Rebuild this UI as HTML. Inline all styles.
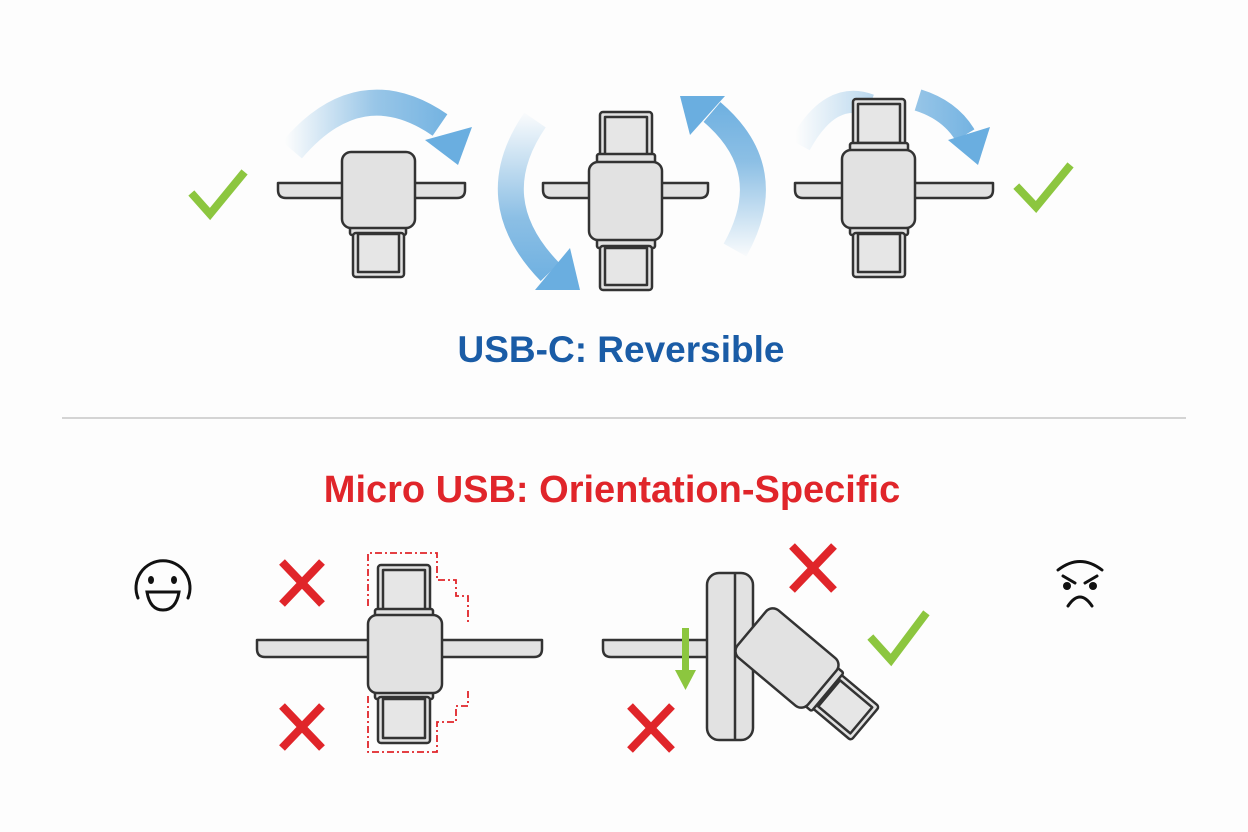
<!DOCTYPE html>
<html><head><meta charset="utf-8"><style>
html,body{margin:0;padding:0;background:#fdfdfd;}
svg{display:block;}
</style></head><body>
<svg width="1248" height="832" viewBox="0 0 1248 832" xmlns="http://www.w3.org/2000/svg">
<defs>
<linearGradient id="g1" x1="285" y1="0" x2="465" y2="0" gradientUnits="userSpaceOnUse"><stop offset="0" stop-color="#7fb8e2" stop-opacity="0"/><stop offset="0.5" stop-color="#7fb8e2" stop-opacity="0.8"/><stop offset="1" stop-color="#6aaee0"/></linearGradient>
<linearGradient id="g2" x1="0" y1="110" x2="0" y2="290" gradientUnits="userSpaceOnUse"><stop offset="0" stop-color="#7fb8e2" stop-opacity="0"/><stop offset="0.6" stop-color="#7fb8e2" stop-opacity="0.9"/><stop offset="1" stop-color="#6aaee0"/></linearGradient>
<linearGradient id="g3" x1="0" y1="260" x2="0" y2="95" gradientUnits="userSpaceOnUse"><stop offset="0" stop-color="#7fb8e2" stop-opacity="0"/><stop offset="0.6" stop-color="#7fb8e2" stop-opacity="0.9"/><stop offset="1" stop-color="#6aaee0"/></linearGradient>
<linearGradient id="g4" x1="795" y1="0" x2="990" y2="0" gradientUnits="userSpaceOnUse"><stop offset="0" stop-color="#7fb8e2" stop-opacity="0"/><stop offset="0.6" stop-color="#7fb8e2" stop-opacity="0.8"/><stop offset="1" stop-color="#6aaee0"/></linearGradient>
</defs>
<g fill="none" stroke-linecap="butt">
<path d="M292 150 Q360 70 440 125" stroke="url(#g1)" stroke-width="26"/>
<polygon points="425,140 472,127 458,165" fill="#6aaee0"/>
<path d="M535 120 Q480 200 550 272" stroke="url(#g2)" stroke-width="26"/>
<polygon points="535,290 580,290 570,248" fill="#6aaee0"/>
<path d="M735 250 Q780 170 712 112" stroke="url(#g3)" stroke-width="26"/>
<polygon points="680,96 725,96 690,135" fill="#6aaee0"/>
<path d="M800 145 Q830 90 870 105" stroke="url(#g4)" stroke-width="22"/>
<path d="M918 100 Q950 110 965 135" stroke="url(#g4)" stroke-width="22"/>
<polygon points="948,140 990,127 978,165" fill="#6aaee0"/>
</g>
<g stroke="#333" stroke-width="2.5" fill="#e2e2e2" stroke-linejoin="round">
<path d="M278 183 H465 V190 Q465 198 457 198 H286 Q278 198 278 190 Z"/>
<rect x="350" y="226" width="56" height="9" rx="2"/>
<rect x="353" y="233" width="51" height="44" rx="3"/><rect x="358" y="234" width="41" height="38" fill="#e6e6e6"/>
<rect x="342" y="152" width="73" height="76" rx="9"/>
<path d="M543 183 H708 V190 Q708 198 700 198 H551 Q543 198 543 190 Z"/>
<rect x="600" y="112" width="52" height="46" rx="3"/><rect x="605" y="117" width="42" height="38" fill="#e6e6e6"/>
<rect x="597" y="154" width="58" height="9" rx="2"/>
<rect x="597" y="239" width="58" height="9" rx="2"/>
<rect x="600" y="246" width="52" height="44" rx="3"/><rect x="605" y="248" width="42" height="37" fill="#e6e6e6"/>
<rect x="589" y="162" width="73" height="78" rx="9"/>
<path d="M795 183 H993 V190 Q993 198 985 198 H803 Q795 198 795 190 Z"/>
<rect x="853" y="99" width="52" height="47" rx="3"/><rect x="858" y="104" width="42" height="39" fill="#e6e6e6"/>
<rect x="850" y="143" width="58" height="9" rx="2"/>
<rect x="850" y="226" width="58" height="9" rx="2"/>
<rect x="853" y="233" width="52" height="44" rx="3"/><rect x="858" y="234" width="42" height="38" fill="#e6e6e6"/>
<rect x="842" y="150" width="73" height="78" rx="9"/>
<path d="M257 640 H542 V649 Q542 657 534 657 H265 Q257 657 257 649 Z"/>
<rect x="378" y="565" width="52" height="48" rx="3"/><rect x="383" y="570" width="42" height="40" fill="#e6e6e6"/>
<rect x="375" y="609" width="58" height="9" rx="2"/>
<rect x="375" y="690" width="58" height="9" rx="2"/>
<rect x="378" y="697" width="52" height="46" rx="3"/><rect x="383" y="699" width="42" height="39" fill="#e6e6e6"/>
<rect x="368" y="615" width="74" height="78" rx="9"/>
<path d="M603 640 H710 V657 H611 Q603 657 603 649 Z"/>
<rect x="707" y="573" width="46" height="167" rx="12"/>
<line x1="735" y1="574" x2="735" y2="739"/>
<g transform="translate(787 658) rotate(40)">
<rect x="50" y="-22" width="52" height="44" rx="3"/><rect x="55" y="-17" width="42" height="34" fill="#e6e6e6"/>
<rect x="44" y="-25" width="9" height="50" rx="2"/>
<rect x="-46" y="-31" width="92" height="62" rx="9"/>
</g>
</g>
<g fill="none" stroke="#e0252a" stroke-width="1.8" stroke-dasharray="7 3 2 3">
<path d="M368 606 V553 H437 V580 H456 V596 H468 V622"/>
<path d="M368 696 V752 H437 V722 H456 V706 H468 V688"/>
</g>
<g stroke="#8cc63f" stroke-width="8" fill="none" stroke-linecap="square">
<path d="M194 196 L210 214 L242 175"/>
<path d="M1019 189 L1036 207 L1068 168"/>
<path d="M873 640 L891 660 L924 616"/>
</g>
<rect x="682" y="628" width="7" height="45" fill="#8cc63f"/>
<polygon points="675,670 696,670 685.5,690" fill="#8cc63f"/>
<g stroke="#e0252a" stroke-width="8" stroke-linecap="butt">
<path d="M282 562 L322 604 M322 562 L282 604"/>
<path d="M282 706 L322 748 M322 706 L282 748"/>
<path d="M792 546 L834 590 M834 546 L792 590"/>
<path d="M630 706 L672 750 M672 706 L630 750"/>
</g>
<g fill="none" stroke="#111" stroke-width="3" stroke-linecap="round">
<path d="M138 598 A27 27 0 1 1 188 598"/>
<path d="M147 592 H179 Q176 610 163 610 Q150 610 147 592 Z"/>
<path d="M1058 570 Q1080 553 1102 570"/>
<path d="M1063 576 L1075 583 M1097 576 L1085 583"/>
<path d="M1068 606 Q1080 588 1092 606"/>
</g>
<g fill="#111"><ellipse cx="151" cy="580" rx="3" ry="4"/><ellipse cx="174" cy="580" rx="3" ry="4"/>
<circle cx="1067" cy="586" r="4"/><circle cx="1093" cy="586" r="4"/></g>
<line x1="62" y1="418" x2="1186" y2="418" stroke="#d4d4d4" stroke-width="2"/>
<text x="621" y="362" text-anchor="middle" font-family="Liberation Sans, sans-serif" font-weight="bold" font-size="37" fill="#1a5ca6">USB-C: Reversible</text>
<text x="612" y="502" text-anchor="middle" font-family="Liberation Sans, sans-serif" font-weight="bold" font-size="38" fill="#e0252a">Micro USB: Orientation-Specific</text>
</svg>
</body></html>
